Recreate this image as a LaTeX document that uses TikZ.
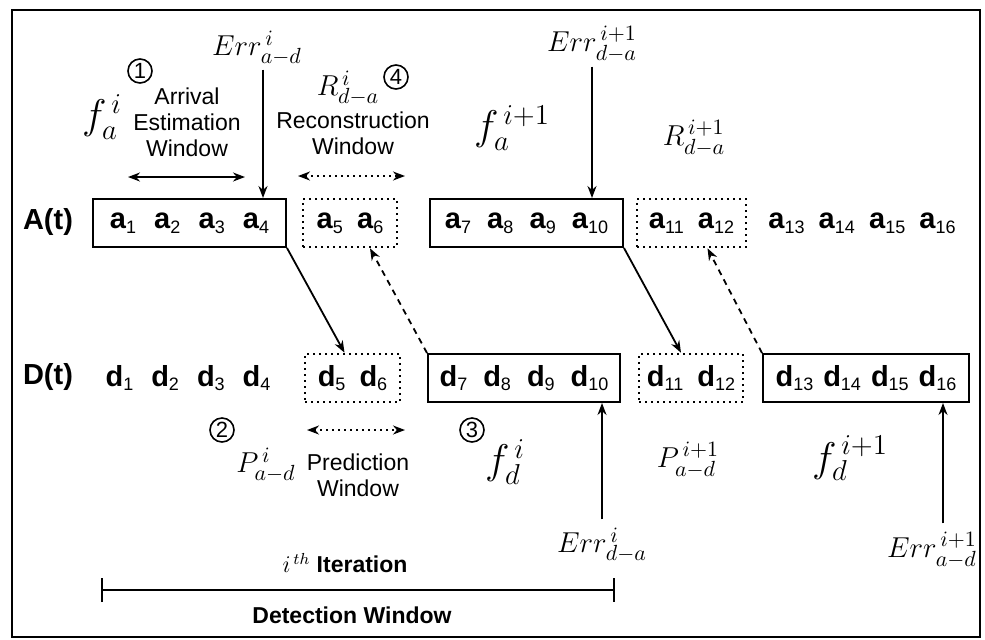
\documentclass[tikz,border=0pt]{standalone}
\usepackage{fontspec}
\setmainfont{Liberation Sans}
\usetikzlibrary{arrows.meta}
\newcommand{\itmfont}{\fontsize{14.5}{17}\selectfont}
\newcommand{\itm}[2]{\textbf{#1}\raisebox{-0.3ex}{\fontsize{9}{9}\selectfont#2}}
\begin{document}
\begin{tikzpicture}[x=0.5pt, y=-0.5pt,
  >={Stealth[length=6pt, width=4.5pt]},
  box/.style={draw, line width=1pt, minimum height=24pt, inner sep=1pt, font=\itmfont},
  dbox/.style={box, dotted, line width=1.3pt},
  row/.style={inner sep=0pt, font=\itmfont},
  lbl/.style={font=\fontsize{11.5}{13}\selectfont, align=center, inner sep=0pt},
  mth/.style={font=\fontsize{15.5}{18}\selectfont, inner sep=0pt},
  fmth/.style={font=\fontsize{20}{22}\selectfont, inner sep=0pt},
  num/.style={draw, circle, line width=0.8pt, minimum size=12pt, inner sep=0pt, font=\fontsize{11}{11}\selectfont},
  arr/.style={->, line width=0.9pt},
  darr/.style={->, line width=0.9pt, dash pattern=on 3pt off 2.5pt}
]
\useasboundingbox (0,0) rectangle (985,639);
\draw[line width=1.3pt] (12,10) rectangle (980,637);

\node[row] (alab) at (48,222) {\textbf{A(t)}};
\node[row] (dlab) at (48,377) {\textbf{D(t)}};

\node[box, minimum width=96.5pt] (aboxA) at (189.5,223) {\itm{a}{1}\hspace{9pt}\itm{a}{2}\hspace{9pt}\itm{a}{3}\hspace{9pt}\itm{a}{4}};
\node[dbox, minimum width=47pt] (aboxB) at (350,223) {\itm{a}{5}\hspace{7pt}\itm{a}{6}};
\node[box, minimum width=96.5pt] (aboxC) at (526.5,223) {\itm{a}{7}\hspace{8pt}\itm{a}{8}\hspace{8pt}\itm{a}{9}\hspace{8pt}\itm{a}{10}};
\node[dbox, minimum width=54.5pt] (aboxD) at (691.5,223) {\itm{a}{11}\hspace{7pt}\itm{a}{12}};
\node[row] (atail) at (862,223) {\itm{a}{13}\hspace{7pt}\itm{a}{14}\hspace{7pt}\itm{a}{15}\hspace{7pt}\itm{a}{16}};

\node[row] (dhead) at (188,378) {\itm{d}{1}\hspace{9pt}\itm{d}{2}\hspace{9pt}\itm{d}{3}\hspace{9pt}\itm{d}{4}};
\node[dbox, minimum width=47.5pt] (dboxB) at (352.5,378) {\itm{d}{5}\hspace{7pt}\itm{d}{6}};
\node[box, minimum width=96pt] (dboxC) at (524,378) {\itm{d}{7}\hspace{8pt}\itm{d}{8}\hspace{8pt}\itm{d}{9}\hspace{8pt}\itm{d}{10}};
\node[dbox, minimum width=52pt] (dboxD) at (691,378) {\itm{d}{11}\hspace{7pt}\itm{d}{12}};
\node[box, minimum width=103pt] (dboxE) at (866,378) {\itm{d}{13}\hspace{5pt}\itm{d}{14}\hspace{5pt}\itm{d}{15}\hspace{5pt}\itm{d}{16}};

\node[fmth] (fa) at (102,117) {$f_a^{\,i}$};
\node[num] (n1) at (140,71) {1};
\node[lbl] (arrtxt) at (187,122) {Arrival\\Estimation\\Window};
\node[mth] (erra) at (257,48) {$Err^{\,i}_{a-d}$};
\node[mth] (ra) at (348,88) {$R^{\,i}_{d-a}$};
\node[num] (n4) at (396,77) {4};
\node[lbl] (rectxt) at (353,133) {Reconstruction\\Window};
\node[fmth] (fa2) at (512,128) {$f_a^{\,i+1}$};
\node[mth] (errd2) at (592,44) {$Err^{\,i+1}_{d-a}$};
\node[mth] (ra2) at (694,138) {$R^{\,i+1}_{d-a}$};

\node[num] (n2) at (222,430) {2};
\node[mth] (pd) at (266,465) {$P^{\,i}_{a-d}$};
\node[lbl] (pretxt) at (358,475) {Prediction\\Window};
\node[num] (n3) at (472,430) {3};
\node[fmth] (fd) at (505,462) {$f_d^{\,i}$};
\node[mth] (errb) at (602,545) {$Err^{\,i}_{d-a}$};
\node[mth] (pd2) at (688,460) {$P^{\,i+1}_{a-d}$};
\node[fmth] (fd2) at (850,458) {$f_d^{\,i+1}$};
\node[mth] (errb2) at (932,550) {$Err^{\,i+1}_{a-d}$};

\node[lbl] (iter) at (345,563) {$i^{\,th}$ \textbf{Iteration}};
\node[lbl] (det) at (352,615) {\textbf{Detection Window}};

\coordinate (estL) at (128,177);
\coordinate (estR) at (245,177);
\coordinate (recL) at (298,176);
\coordinate (recR) at (405,176);
\coordinate (preL) at (307,430);
\coordinate (preR) at (405,430);
\coordinate (detL) at (101,590);
\coordinate (detR) at (615,590);

\draw[<->, line width=1.4pt] (estL) -- (estR);
\draw[<->, line width=1pt, dotted] (recL) -- (recR);
\draw[<->, line width=1pt, dotted] (preL) -- (preR);
\draw[{Bar[width=12pt]}-{Bar[width=12pt]}, line width=1pt] (detL) -- (detR);

\draw[arr, shorten <=2pt] ([xshift=3pt]erra.south) -- ([xshift=3pt]erra.south |- aboxA.north);
\draw[arr, shorten <=2pt] (errd2.south) -- (errd2.south |- aboxC.north);
\draw[arr, shorten <=4pt] (errb.north) -- (errb.north |- dboxC.south);
\draw[arr, shorten <=4pt] ([xshift=5.5pt]errb2.north) -- ([xshift=5.5pt]errb2.north |- dboxE.south);

\draw[arr] (aboxA.south east) -- ([xshift=-4pt]dboxB.north);
\draw[darr] (dboxC.north west) -- ([xshift=10pt]aboxB.south);
\draw[arr] (aboxC.south east) -- ([xshift=-5pt]dboxD.north);
\draw[darr] (dboxE.north west) -- ([xshift=8pt]aboxD.south);
\end{tikzpicture}
\end{document}
